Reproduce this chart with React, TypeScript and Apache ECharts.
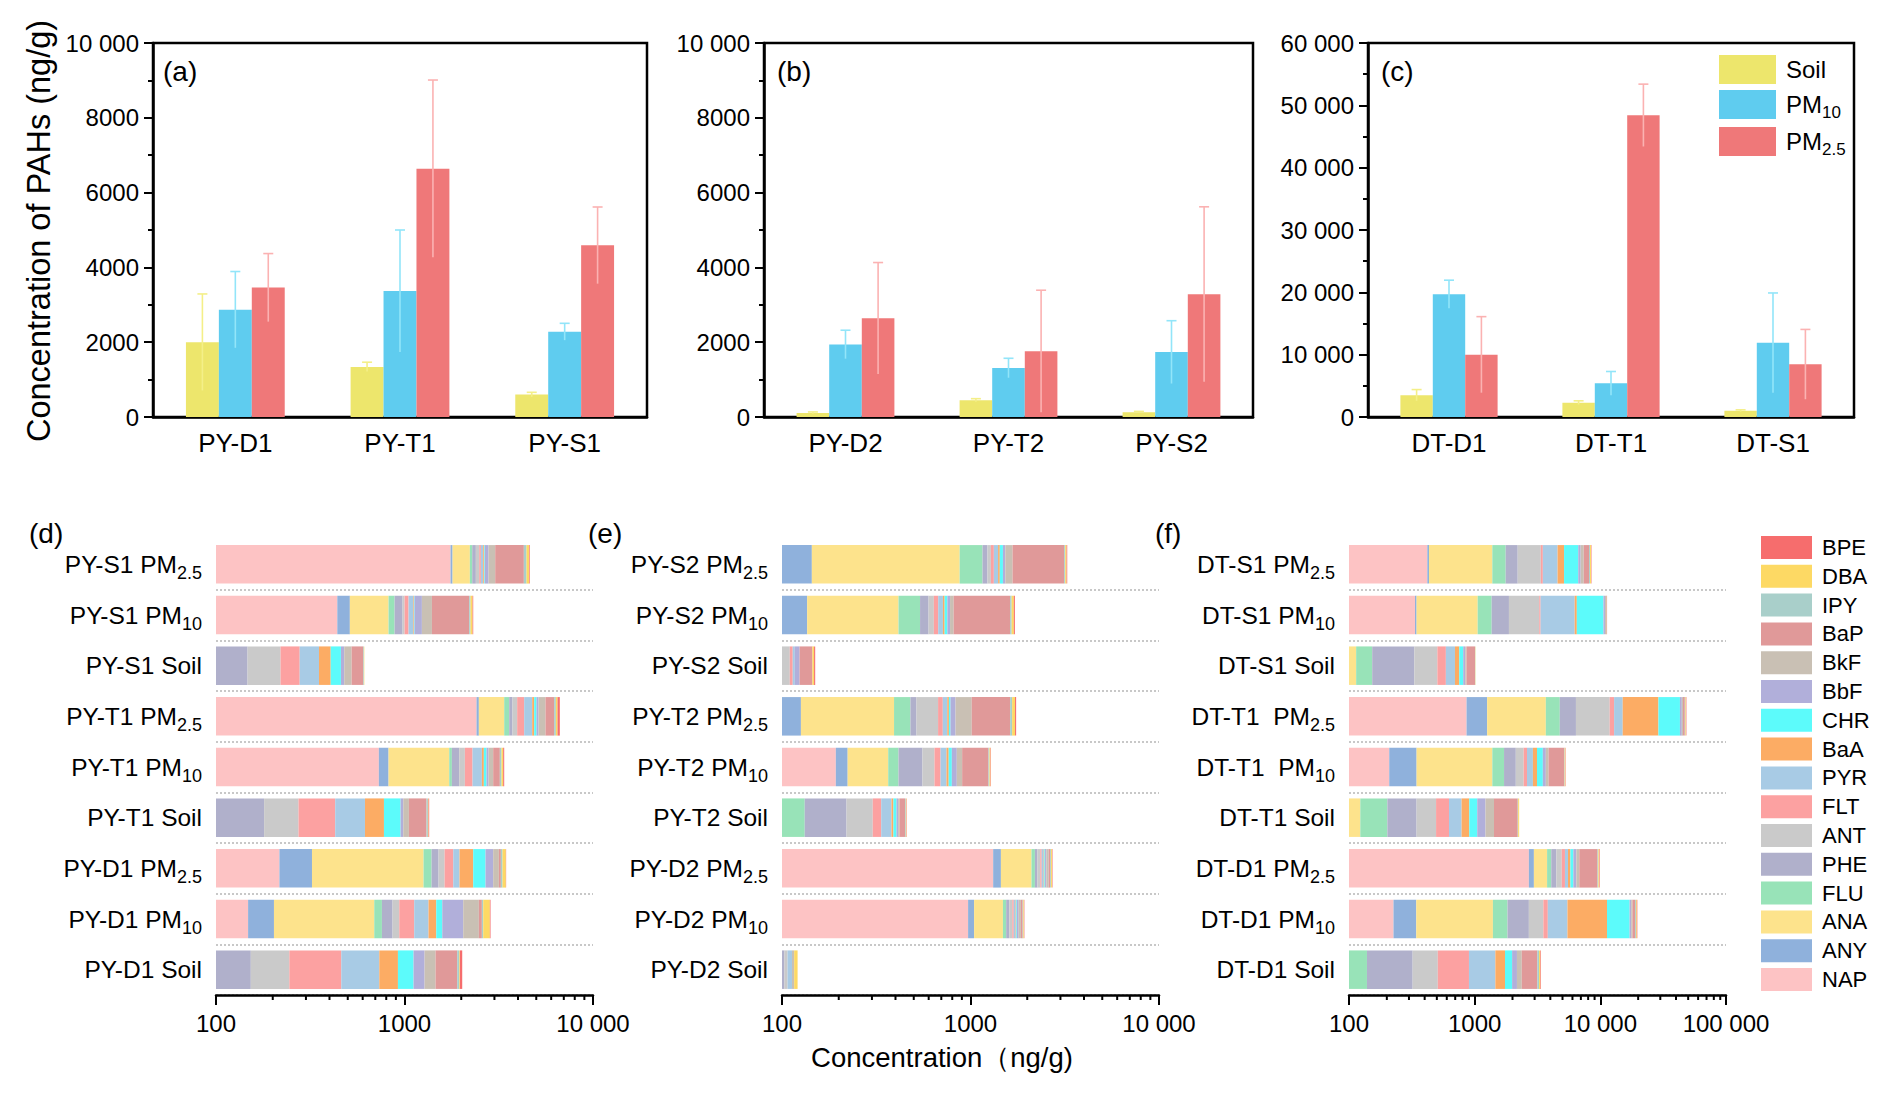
import React, { useEffect, useRef } from "react";
import * as echarts from "echarts";

const FONT = '"Liberation Sans", Arial, Helvetica, sans-serif';

// ---------- Top panels (a)-(c): mean ± SD ----------
const sitesA = ["PY-D1", "PY-T1", "PY-S1"];
const soilA = [2000, 1340, 600];
const soilErrA = [1290, 125, 60];
const pm10A = [2870, 3370, 2280];
const pm10ErrA = [1020, 1630, 225];
const pm25A = [3460, 6640, 4590];
const pm25ErrA = [910, 2370, 1025];

const sitesB = ["PY-D2", "PY-T2", "PY-S2"];
const soilB = [110, 450, 130];
const soilErrB = [25, 40, 20];
const pm10B = [1940, 1310, 1735];
const pm10ErrB = [380, 260, 840];
const pm25B = [2640, 1760, 3280];
const pm25ErrB = [1490, 1630, 2340];

const sitesC = ["DT-D1", "DT-T1", "DT-S1"];
const soilC = [3500, 2300, 1000];
const soilErrC = [900, 300, 150];
const pm10C = [19700, 5400, 11900];
const pm10ErrC = [2250, 1900, 8000];
const pm25C = [10000, 48400, 8450];
const pm25ErrC = [6100, 5000, 5600];

const topMax = [10000, 10000, 60000];
const topInterval = [2000, 2000, 10000];
const fractions = ["Soil", "PM10", "PM2.5"];
const fractionColors = ["#EDE66C", "#5FCCEF", "#EF7879"];
const errColors = ["#F4EF88", "#92E5F9", "#FBB2B2"];

// ---------- Bottom panels (d)-(f): stacked PAH composition ----------
const compounds = ["NAP", "ANY", "ANA", "FLU", "PHE", "ANT", "FLT", "PYR", "BaA", "CHR", "BbF", "BkF", "BaP", "IPY", "DBA", "BPE"];
const compoundColors = ["#FDC3C4", "#8FB1DC", "#FDE38C", "#98E3B8", "#B0B0CB", "#CACACA", "#FCA1A1", "#A8CBE5", "#FCAC64", "#5CFBFB", "#B1AFDA", "#C9C0B4", "#E09999", "#A9CFCA", "#FDD964", "#F66D6D"];

const rowsD = ["PY-S1 PM2.5", "PY-S1 PM10", "PY-S1 Soil", "PY-T1 PM2.5", "PY-T1 PM10", "PY-T1 Soil", "PY-D1 PM2.5", "PY-D1 PM10", "PY-D1 Soil"];
const valuesD = [
  [1755, 44, 423, 65, 104, 100, 51, 74, 32, 21, 122, 237, 1269, 142, 146, 37],
  [440, 73, 310, 63, 91, 24, 50, 62, 9, 9, 106, 161, 806, 36, 56, 19],
  [0, 0, 0, 0, 147, 73, 58, 74, 54, 54, 19, 45, 80, 5, 3, 0],
  [2411, 69, 900, 213, 148, 219, 354, 443, 118, 141, 124, 458, 624, 131, 131, 184],
  [731, 92, 904, 57, 167, 140, 205, 277, 63, 88, 67, 163, 251, 66, 67, 42],
  [0, 0, 0, 0, 180, 94, 155, 188, 161, 175, 32, 70, 254, 22, 10, 11],
  [217, 106, 939, 130, 124, 116, 182, 145, 356, 376, 263, 212, 79, 66, 137, 12],
  [148, 55, 488, 68, 105, 74, 188, 215, 133, 112, 463, 431, 93, 43, 221, 23],
  [0, 0, 0, 0, 153, 92, 217, 273, 188, 194, 161, 183, 443, 47, 16, 57],
];

const rowsE = ["PY-S2 PM2.5", "PY-S2 PM10", "PY-S2 Soil", "PY-T2 PM2.5", "PY-T2 PM10", "PY-T2 Soil", "PY-D2 PM2.5", "PY-D2 PM10", "PY-D2 Soil"];
const valuesE = [
  [0, 144, 732, 282, 72, 53, 47, 71, 29, 56, 44, 141, 1469, 40, 53, 27],
  [0, 136, 279, 125, 59, 40, 35, 40, 15, 25, 25, 35, 809, 30, 45, 22],
  [0, 0, 0, 0, 0, 110, 4, 3, 0, 0, 7, 0, 21, 0, 3, 2],
  [0, 126, 267, 87, 37, 156, 40, 40, 15, 15, 50, 182, 608, 40, 60, 23],
  [193, 30, 143, 49, 141, 88, 50, 52, 20, 30, 50, 57, 343, 15, 15, 7],
  [0, 0, 0, 132, 88, 83, 33, 45, 9, 15, 8, 7, 30, 4, 3, 2],
  [1319, 131, 656, 90, 70, 80, 40, 60, 20, 20, 40, 70, 50, 30, 30, 16],
  [971, 74, 441, 60, 60, 60, 30, 40, 10, 15, 40, 50, 40, 15, 15, 10],
  [0, 0, 0, 0, 103, 4, 0, 6, 0, 0, 0, 3, 0, 0, 5, 0],
];

const rowsF = ["DT-S1 PM2.5", "DT-S1 PM10", "DT-S1 Soil", "DT-T1  PM2.5", "DT-T1  PM10", "DT-T1 Soil", "DT-D1 PM2.5", "DT-D1 PM10", "DT-D1 Soil"];
const valuesF = [
  [420, 13, 949, 383, 435, 1159, 128, 1081, 576, 1529, 300, 400, 759, 150, 150, 68],
  [335, 10, 712, 308, 509, 1391, 81, 2904, 250, 4087, 300, 200, 150, 30, 30, 13],
  [0, 0, 114, 39, 178, 174, 85, 107, 57, 57, 30, 20, 145, 5, 5, 0],
  [862, 395, 2427, 1074, 1638, 5474, 1000, 2200, 13930, 14000, 1500, 1000, 1500, 500, 500, 400],
  [209, 136, 1037, 331, 412, 329, 156, 298, 227, 352, 197, 186, 1298, 40, 60, 32],
  [0, 0, 123, 79, 143, 148, 132, 162, 119, 142, 172, 205, 775, 20, 40, 0],
  [2700, 260, 810, 300, 400, 460, 300, 300, 250, 320, 350, 350, 2700, 150, 150, 100],
  [226, 117, 1054, 428, 875, 820, 300, 1655, 5825, 5800, 500, 400, 900, 300, 300, 200],
  [0, 0, 0, 139, 182, 188, 392, 560, 282, 243, 184, 200, 783, 100, 80, 37],
];

const bottomMin = 100;
const bottomMax = [10000, 10000, 100000];
const minorSteps = [2, 3, 4, 5, 6, 7, 8, 9];

// ---------- layout ----------
const topLayout = [
  { left: 153, width: 494, tag: "(a)", tagX: 163 },
  { left: 764, width: 489, tag: "(b)", tagX: 777 },
  { left: 1368, width: 486, tag: "(c)", tagX: 1381 },
];
const bottomLayout = [
  { left: 216, tag: "(d)", tagX: 29 },
  { left: 782, tag: "(e)", tagX: 588 },
  { left: 1349, tag: "(f)", tagX: 1155 },
];

function fmtNum(v: number) {
  const r = Math.round(v);
  if (r >= 10000) {
    const s = String(r);
    return s.slice(0, s.length - 3) + " " + s.slice(-3);
  }
  return String(r);
}

function subLabel(name: string) {
  const m = name.match(/^(.*PM)(2\.5|10)$/);
  if (m) return "{m|" + m[1] + "}{s|" + m[2] + "}";
  return "{m|" + name + "}";
}

function buildOption() {
  const grid: any[] = [];
  const xAxis: any[] = [];
  const yAxis: any[] = [];
  const series: any[] = [];
  const graphic: any[] = [];

  const topData = [
    { sites: sitesA, means: [soilA, pm10A, pm25A], errs: [soilErrA, pm10ErrA, pm25ErrA] },
    { sites: sitesB, means: [soilB, pm10B, pm25B], errs: [soilErrB, pm10ErrB, pm25ErrB] },
    { sites: sitesC, means: [soilC, pm10C, pm25C], errs: [soilErrC, pm10ErrC, pm25ErrC] },
  ];

  topData.forEach((p, i) => {
    const L = topLayout[i];
    grid.push({ left: L.left, top: 43, width: L.width, height: 374, show: true, borderColor: "#000", borderWidth: 2.5, backgroundColor: "transparent" });
    xAxis.push({
      type: "category", gridIndex: i, data: p.sites,
      axisLine: { lineStyle: { color: "#000", width: 2.5 } },
      axisTick: { alignWithLabel: true, length: 8, lineStyle: { color: "#000", width: 2 } },
      axisLabel: { color: "#000", fontSize: 26, fontFamily: FONT, margin: 13 },
    });
    yAxis.push({
      type: "value", gridIndex: i, min: 0, max: topMax[i], interval: topInterval[i],
      axisLine: { show: true, lineStyle: { color: "#000", width: 2.5 } },
      axisTick: { show: true, length: 9, lineStyle: { color: "#000", width: 2 } },
      minorTick: { show: true, splitNumber: 2, length: 5, lineStyle: { color: "#000", width: 2 } },
      splitLine: { show: false },
      axisLabel: { color: "#000", fontSize: 24, fontFamily: FONT, margin: 14, formatter: fmtNum },
    });
    fractions.forEach((f, s) => {
      series.push({
        type: "bar", name: f, xAxisIndex: i, yAxisIndex: i, data: p.means[s],
        barGap: "0%", barCategoryGap: "40%",
        itemStyle: { color: fractionColors[s] },
      });
    });
    fractions.forEach((f, s) => {
      const col = errColors[s];
      series.push({
        type: "custom", name: f + " SD", xAxisIndex: i, yAxisIndex: i, z: 5, silent: true,
        data: p.sites.map((_, k) => [k, p.means[s][k], p.errs[s][k]]),
        encode: { x: 0, y: 1 },
        renderItem: (params: any, api: any) => {
          const k = api.value(0), m = api.value(1), e = api.value(2);
          const band = api.size([1, 0])[0];
          const c = api.coord([k, m]);
          const x = c[0] + (s - 1) * band * 0.2;
          const yTop = api.coord([k, m + e])[1];
          const yBot = api.coord([k, Math.max(m - e, 0)])[1];
          return {
            type: "group",
            children: [
              { type: "line", shape: { x1: x, y1: yBot, x2: x, y2: yTop }, style: { stroke: col, lineWidth: 1.6 } },
              { type: "line", shape: { x1: x - 5, y1: yTop, x2: x + 5, y2: yTop }, style: { stroke: col, lineWidth: 1.6 } },
            ],
          };
        },
      });
    });
    graphic.push({ type: "text", x: L.tagX, y: 71, style: { text: L.tag, font: `28px ${FONT}`, fill: "#000", textVerticalAlign: "middle" } });
  });

  const bottomData = [
    { rows: rowsD, values: valuesD },
    { rows: rowsE, values: valuesE },
    { rows: rowsF, values: valuesF },
  ];

  bottomData.forEach((p, j) => {
    const gi = 3 + j;
    const L = bottomLayout[j];
    grid.push({ left: L.left, top: 539, width: 377, height: 456 });
    xAxis.push({
      type: "log", logBase: 10, gridIndex: gi, min: bottomMin, max: bottomMax[j],
      axisLine: { show: true, lineStyle: { color: "#000", width: 2.5 } },
      axisTick: { show: true, length: 10, lineStyle: { color: "#000", width: 2 } },
      splitLine: { show: false },
      axisLabel: { color: "#000", fontSize: 24, fontFamily: FONT, margin: 16, formatter: fmtNum },
    });
    yAxis.push({
      type: "category", gridIndex: gi, data: p.rows, inverse: true,
      axisLine: { show: false }, axisTick: { show: false },
      splitLine: { show: true, interval: (idx: number) => idx !== 0, lineStyle: { type: "dotted", color: "#C8C8C8", width: 2 } },
      axisLabel: {
        margin: 14, formatter: subLabel,
        rich: {
          m: { fontSize: 24.5, lineHeight: 25, fontFamily: FONT, color: "#000", verticalAlign: "top" },
          s: { fontSize: 18, lineHeight: 18, fontFamily: FONT, color: "#000", verticalAlign: "top", padding: [12, 0, 0, 0] },
        },
      },
    });
    compounds.forEach((cName, c) => {
      const col = compoundColors[c];
      const data: number[][] = [];
      p.values.forEach((row, r) => {
        let before = 0;
        for (let q = 0; q < c; q++) before += row[q];
        const after = before + row[c];
        if (row[c] > 0 && after > bottomMin) data.push([Math.max(before, bottomMin), after, r]);
      });
      series.push({
        type: "custom", name: cName, xAxisIndex: gi, yAxisIndex: gi,
        itemStyle: { color: col },
        dimensions: ["start", "end", "row"],
        encode: { x: [0, 1], y: 2 },
        data,
        renderItem: (params: any, api: any) => {
          const r = api.value(2);
          const a = api.coord([api.value(0), r]);
          const b = api.coord([api.value(1), r]);
          const h = api.size([0, 1], [1000, r])[1] * 0.76;
          const cs = params.coordSys;
          const shape = echarts.graphic.clipRectByRect(
            { x: a[0], y: a[1] - h / 2, width: b[0] - a[0], height: h },
            { x: cs.x, y: cs.y, width: cs.width, height: cs.height }
          );
          if (!shape) return null;
          return { type: "rect", shape, style: { fill: col } };
        },
      });
    });
    // minor ticks at 2..9 x 10^k
    const decades: number[] = [];
    for (let d = bottomMin; d < bottomMax[j]; d *= 10) decades.push(d);
    const minor: number[][] = [];
    decades.forEach((d) => minorSteps.forEach((m) => minor.push([d * m, 0])));
    series.push({
      type: "custom", name: "minor", xAxisIndex: gi, yAxisIndex: gi, silent: true, z: 6,
      data: minor, encode: { x: 0, y: 1 },
      renderItem: (params: any, api: any) => {
        const pt = api.coord([api.value(0), 0]);
        const cs = params.coordSys;
        const yb = cs.y + cs.height;
        return { type: "line", shape: { x1: pt[0], y1: yb, x2: pt[0], y2: yb + 5 }, style: { stroke: "#000", lineWidth: 2 } };
      },
    });
    graphic.push({ type: "text", x: L.tagX, y: 533, style: { text: L.tag, font: `28px ${FONT}`, fill: "#000", textVerticalAlign: "middle" } });
  });

  graphic.push({
    type: "text", x: 39, y: 231, rotation: Math.PI / 2,
    style: { text: "Concentration of PAHs (ng/g)", font: `32.5px ${FONT}`, fill: "#000", textAlign: "center", textVerticalAlign: "middle" },
  });
  graphic.push({
    type: "text", x: 942, y: 1057,
    style: { text: "Concentration\uFF08ng/g)", font: `27.5px ${FONT}`, fill: "#000", textAlign: "center", textVerticalAlign: "middle" },
  });

  const legend = [
    {
      data: fractions, orient: "vertical", left: 1714, top: 50, itemWidth: 57, itemHeight: 29, itemGap: 6,
      icon: "rect", selectedMode: false,
      formatter: subLabel,
      textStyle: {
        rich: {
          m: { fontSize: 24, lineHeight: 25, fontFamily: FONT, color: "#000", verticalAlign: "top", padding: [0, 0, 0, 5] },
          s: { fontSize: 17, lineHeight: 17, fontFamily: FONT, color: "#000", verticalAlign: "top", padding: [12, 0, 0, 0] },
        },
      },
    },
    {
      data: compounds.slice().reverse(), orient: "vertical", left: 1756, top: 531, itemWidth: 51, itemHeight: 23, itemGap: 5.8,
      icon: "rect", selectedMode: false,
      textStyle: { fontSize: 22, fontFamily: FONT, color: "#000", padding: [0, 0, 0, 5] },
    },
  ];

  return {
    animation: false,
    backgroundColor: "#fff",
    textStyle: { fontFamily: FONT },
    grid, xAxis, yAxis, series, legend, graphic,
  };
}

export default function App() {
  const ref = useRef<HTMLDivElement>(null);
  useEffect(() => {
    if (!ref.current) return;
    const chart = echarts.init(ref.current, undefined, { renderer: "svg" });
    chart.setOption(buildOption() as any);
    return () => chart.dispose();
  }, []);
  return <div ref={ref} style={{ position: "fixed", left: 0, top: 0, width: 1892, height: 1098, background: "#fff" }} />;
}
